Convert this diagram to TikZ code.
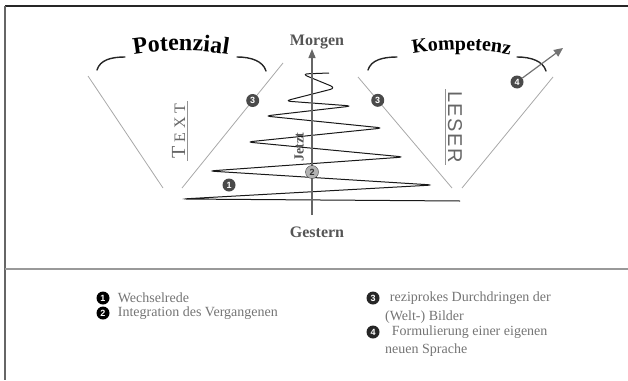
\documentclass[tikz,border=0pt]{standalone}
\usepackage{fontspec}
\setmainfont{Liberation Serif}
\newfontfamily\lesersf{Liberation Sans}
\usetikzlibrary{arrows.meta, positioning, decorations.text}

\definecolor{inkgray}{HTML}{555555}
\definecolor{linegray}{HTML}{A8A8A8}
\definecolor{textgray}{HTML}{747474}
\definecolor{dotgray}{HTML}{4A4A4A}

\tikzset{
  numdot/.style={circle, fill=#1, text=white, inner sep=0pt, minimum size=13pt,
    font=\lesersf\bfseries\fontsize{9}{9}\selectfont},
  funnel/.style={draw=linegray, line width=0.8pt},
  arcline/.style={draw=black!85, line width=1.4pt, line cap=round},
  timelbl/.style={text=inkgray, font=\bfseries\fontsize{16}{16}\selectfont},
  sidelbl/.style={text=gray!80!black, inner sep=2pt},
  legendtext/.style={text=textgray, inner sep=0pt, font=\fontsize{14}{14}\selectfont},
}

\begin{document}
\begin{tikzpicture}[x=1pt, y=1pt]
  \useasboundingbox (0,0) rectangle (628,-380);
  % frame and separator
  \draw[line width=2pt, black!85] (5,-6) -- (628,-6);
  \draw[line width=2pt, black!60] (5,-6) -- (5,-380);
  \draw[line width=1.5pt, black!40] (5,-269) -- (628,-269);

  % time axis
  \node[timelbl] (morgen) at (317,-42) {Morgen};
  \node[timelbl] (gestern) at (317,-232) {Gestern};
  \coordinate (axbot) at (312,-215);
  \coordinate (axtop) at (312,-49);

  % spiral
  \draw[black!90, line width=1pt, rounded corners=6pt]
    (329,-73) -- (302,-74) -- (336,-88) -- (285,-101) -- (352,-106) -- (265,-116)
    -- (383,-128) -- (247,-142) -- (404,-157) -- (209,-171)
    -- (433,-185) -- (182,-199) -- (460,-201);
  \draw[gray!80!black, line width=1.2pt, -{Triangle[length=9pt,width=7pt]}] (axbot) -- (axtop);
  \node[rotate=90, text=inkgray, font=\bfseries\fontsize{14}{14}\selectfont] (jetzt) at (299,-147) {Jetzt};

  % funnels
  \draw[funnel] (88,-76) -- (163,-188);
  \draw[funnel] (283,-63) -- node[numdot=dotgray, pos=0.3] (n3a) {3} (182,-188);
  \draw[funnel] (358,-77) -- node[numdot=dotgray, pos=0.21] (n3b) {3} (452,-188);
  \draw[funnel] (553,-77) -- (462,-188);

  \node[numdot=dotgray] (n1) at (229,-185) {1};
  \node[numdot=gray!60, draw=black!75, text=black!80] (n2) at (312,-172) {2};

  % brackets
  \draw[arcline] (97,-70) .. controls (100,-60) and (111,-57) .. (125,-57);
  \draw[arcline] (237,-57) .. controls (251,-57) and (263,-61) .. (266,-71);
  \draw[arcline] (368,-70) .. controls (371,-60) and (383,-57) .. (397,-57);
  \draw[arcline] (517,-57) .. controls (531,-57) and (543,-61) .. (546,-71);

  \path[decorate, decoration={text along path, text align=center,
      text={|\bfseries\fontsize{24}{24}\selectfont|Potenzial}}]
    (126,-56) .. controls (160,-49) and (200,-49) .. (236,-56);
  \path[decorate, decoration={text along path, text align=center,
      text={|\bfseries\fontsize{20}{20}\selectfont|Kompetenz}}]
    (403,-56) .. controls (440,-48) and (482,-48) .. (520,-57);

  % side labels
  \node[sidelbl, rotate=90] (textlbl) at (178.5,-131)
    {{\fontsize{20}{20}\selectfont T}\kern4pt{\fontsize{16}{16}\selectfont E\kern4pt X\kern4pt T}};
  \draw[gray!85, line width=0.9pt] (textlbl.south west) -- (textlbl.south east);
  \node[sidelbl, rotate=-90, font=\lesersf\fontsize{20}{20}\selectfont] (leserlbl) at (455,-127)
    {L\kern1.5pt E\kern1.5pt S\kern1.5pt E\kern1.5pt R};
  \draw[gray!85, line width=0.9pt] (leserlbl.south west) -- (leserlbl.south east);

  % arrow 4
  \node[numdot=dotgray] (n4) at (517,-82) {4};
  \coordinate (arrtip) at (563,-48);
  \draw[gray!90!black, line width=1.2pt, -{Triangle[length=9pt,width=8pt]}] (n4) -- (arrtip);

  % legend
  \node[numdot=black] (lg1) at (103,-298) {1};
  \node[numdot=black] (lg2) at (103,-313) {2};
  \node[numdot=black!85] (lg3) at (373,-298) {3};
  \node[numdot=black!85] (lg4) at (373,-332) {4};
  \node[legendtext, right=8pt of lg1] (lt1) {Wechselrede};
  \node[legendtext, right=8pt of lg2] (lt2) {Integration des Vergangenen};
  \node[legendtext, right=10pt of lg3] (lt3a) {reziprokes Durchdringen der};
  \node[legendtext, anchor=west] (lt3b) at (385,-317) {(Welt-) Bilder};
  \node[legendtext, right=12pt of lg4] (lt4a) {Formulierung einer eigenen};
  \node[legendtext, anchor=west] (lt4b) at (385,-350) {neuen Sprache};
\end{tikzpicture}
\end{document}
